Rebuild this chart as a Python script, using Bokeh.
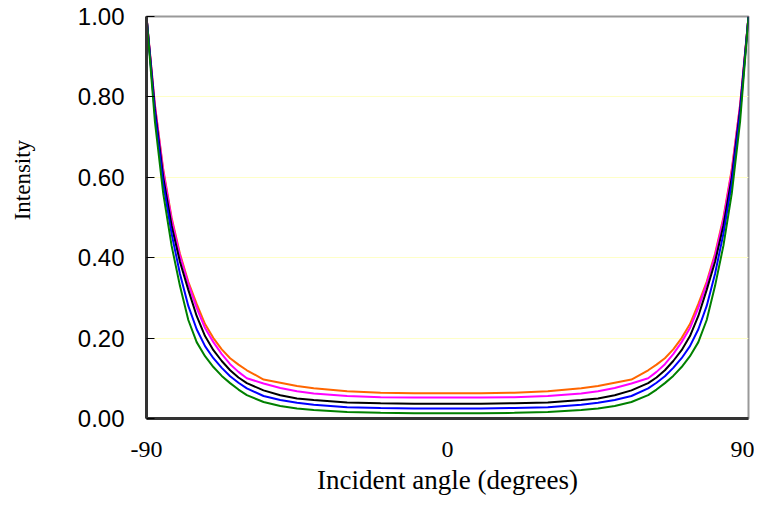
from bokeh.plotting import figure
from bokeh.models import FixedTicker, Range1d, CustomJSTickFormatter, NumeralTickFormatter
from bokeh.embed import file_html
from bokeh.resources import INLINE

# Incident angle (degrees)
angles = [-90, -87.5, -85, -82.5, -80, -77.5, -75, -72.5, -70, -67.5, -65, -62.5, -60, -55, -50, -45, -40, -30, -20, -10,
          0, 10, 20, 30, 40, 45, 50, 55, 60, 62.5, 65, 67.5, 70, 72.5, 75, 77.5, 80, 82.5, 85, 87.5, 90]

orange = [1.0, 0.78, 0.62, 0.50, 0.41, 0.34, 0.285, 0.235, 0.20, 0.172, 0.15, 0.134, 0.12, 0.097, 0.089, 0.081, 0.075, 0.068, 0.064, 0.063,
          0.063, 0.063, 0.064, 0.068, 0.075, 0.081, 0.089, 0.097, 0.12, 0.134, 0.15, 0.172, 0.20, 0.235, 0.285, 0.34, 0.41, 0.50, 0.62, 0.78, 1.0]
magenta = [1.0, 0.78, 0.615, 0.495, 0.405, 0.335, 0.275, 0.225, 0.19, 0.16, 0.135, 0.116, 0.10, 0.087, 0.076, 0.068, 0.062, 0.056, 0.053, 0.052,
           0.052, 0.052, 0.053, 0.056, 0.062, 0.068, 0.076, 0.087, 0.10, 0.116, 0.135, 0.16, 0.19, 0.225, 0.275, 0.335, 0.405, 0.495, 0.615, 0.78, 1.0]
black = [1.0, 0.77, 0.60, 0.48, 0.39, 0.32, 0.255, 0.205, 0.17, 0.143, 0.12, 0.102, 0.088, 0.070, 0.058, 0.050, 0.046, 0.040, 0.038, 0.037,
         0.037, 0.037, 0.038, 0.040, 0.046, 0.050, 0.058, 0.070, 0.088, 0.102, 0.12, 0.143, 0.17, 0.205, 0.255, 0.32, 0.39, 0.48, 0.60, 0.77, 1.0]
blue = [1.0, 0.76, 0.585, 0.46, 0.36, 0.28, 0.222, 0.18, 0.15, 0.126, 0.105, 0.089, 0.075, 0.056, 0.046, 0.039, 0.034, 0.028, 0.026, 0.025,
        0.025, 0.025, 0.026, 0.028, 0.034, 0.039, 0.046, 0.056, 0.075, 0.089, 0.105, 0.126, 0.15, 0.18, 0.222, 0.28, 0.36, 0.46, 0.585, 0.76, 1.0]
green = [1.0, 0.74, 0.56, 0.43, 0.33, 0.245, 0.19, 0.155, 0.128, 0.106, 0.088, 0.072, 0.058, 0.041, 0.031, 0.025, 0.021, 0.016, 0.014, 0.013,
         0.013, 0.013, 0.014, 0.016, 0.021, 0.025, 0.031, 0.041, 0.058, 0.072, 0.088, 0.106, 0.128, 0.155, 0.19, 0.245, 0.33, 0.43, 0.56, 0.74, 1.0]

series = [(orange, "#FF6600"), (magenta, "#FF00FF"), (black, "#000000"), (blue, "#0000FF"), (green, "#008000")]

x_ticks = [-90, 0, 90]
y_ticks = [0.0, 0.2, 0.4, 0.6, 0.8, 1.0]
grid_ticks = [0.2, 0.4, 0.6, 0.8]

p = figure(width=754, height=505, output_backend="svg", toolbar_location=None,
           x_range=Range1d(-90, 90), y_range=Range1d(0, 1),
           min_border_left=146, min_border_right=6, min_border_top=16, min_border_bottom=87)

for vals, col in series:
    p.line(angles, vals, line_color=col, line_width=2)

p.background_fill_color = "white"
p.border_fill_color = "white"
p.outline_line_color = "#999999"
p.outline_line_width = 2

# x axis
xa = p.xaxis[0]
xa.ticker = FixedTicker(ticks=x_ticks)
xa.formatter = CustomJSTickFormatter(code="return tick.toFixed(0);")
xa.major_tick_line_color = None
xa.minor_tick_line_color = None
xa.axis_line_color = "#333333"
xa.axis_line_width = 3
xa.major_label_text_font = "Liberation Serif"
xa.major_label_text_font_size = "24px"
xa.major_label_text_color = "black"
xa.major_label_standoff = 17
xa.axis_label = "Incident angle (degrees)"
xa.axis_label_text_font = "Liberation Serif"
xa.axis_label_text_font_size = "27px"
xa.axis_label_text_font_style = "normal"
xa.axis_label_text_color = "black"
xa.axis_label_standoff = 5

# y axis
ya = p.yaxis[0]
ya.ticker = FixedTicker(ticks=y_ticks)
ya.formatter = NumeralTickFormatter(format="0.00")
ya.major_tick_in = 8
ya.major_tick_out = 0
ya.major_tick_line_color = "black"
ya.major_tick_line_width = 1
ya.minor_tick_line_color = None
ya.axis_line_color = "#333333"
ya.axis_line_width = 3
ya.major_label_text_font = "Liberation Sans"
ya.major_label_text_font_size = "24px"
ya.major_label_text_color = "black"
ya.major_label_standoff = 22
# leading no-break spaces shift the title up, as in the reference
ya.axis_label = "\u00a0" * 13 + "Intensity"
ya.axis_label_text_font = "Liberation Serif"
ya.axis_label_text_font_size = "23px"
ya.axis_label_text_font_style = "normal"
ya.axis_label_text_color = "black"
ya.axis_label_standoff = 40

p.xgrid.grid_line_color = None
p.ygrid.ticker = FixedTicker(ticks=grid_ticks)
p.ygrid.grid_line_color = "#FFFFC8"
p.ygrid.grid_line_width = 1

open("out.html", "w").write(file_html(p, INLINE))
